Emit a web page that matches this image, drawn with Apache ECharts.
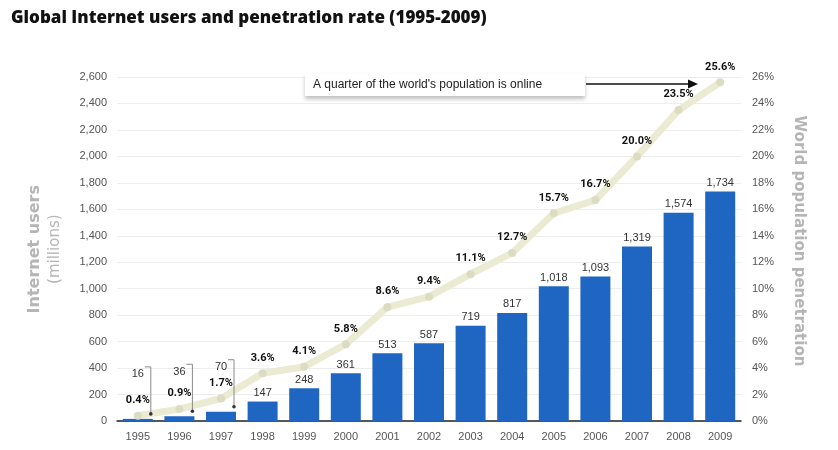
<!DOCTYPE html>
<html>
<head>
<meta charset="utf-8">
<script src="https://cdn.jsdelivr.net/npm/echarts@6/dist/echarts.min.js"></script>
<style>
html,body{margin:0;padding:0;background:#fff;}
#main{width:838px;height:450px;}
</style>
</head>
<body>
<div id="main"></div>
<script>
// 年份
var years = ['1995','1996','1997','1998','1999','2000','2001','2002','2003','2004','2005','2006','2007','2008','2009'];
// 网民数量（百万）
var users = [16, 36, 70, 147, 248, 361, 513, 587, 719, 817, 1018, 1093, 1319, 1574, 1734];
// 世界人口渗透率 %
var rate = [0.4, 0.9, 1.7, 3.6, 4.1, 5.8, 8.6, 9.4, 11.1, 12.7, 15.7, 16.7, 20.0, 23.5, 25.6];

var myChart = echarts.init(document.getElementById('main'));

function fmtNum(v){
	return String(v).replace(/\B(?=(\d{3})+(?!\d))/g, ',');
}

var barData = [];
var calloutData = [];
for (var i = 0; i < users.length; i++) {
	var item = {value: users[i]};
	if (i < 3) {
		item.label = {offset: [0, -36]}; // 前三年标签抬高
	}
	barData.push(item);
	calloutData.push([i, users[i]]);
}

// 前三年标签的引线
function renderCallout(params, api){
	if (params.dataIndex > 2) return null;
	var p = api.coord([api.value(0), api.value(1)]);
	var x = p[0], barTop = p[1];
	var topY = barTop - 52;
	var color = '#8a8a8a';
	return {
		type: 'group',
		children: [
			{
				type: 'polyline',
				shape: {points: [[x + 7, topY], [x + 13, topY], [x + 13, barTop - 5]]},
				style: {stroke: color, lineWidth: 1, fill: null}
			},
			{
				type: 'circle',
				shape: {cx: x + 13, cy: barTop - 5, r: 1.8},
				style: {fill: '#333'}
			}
		]
	};
}

var option = {
	animation: false,
	title: {
		text: 'Global Internet users and penetration rate (1995-2009)',
		left: 6,
		top: 5,
		textStyle: {
			fontFamily: 'Open Sans',
			fontSize: 17,
			fontWeight: 800,
			color: '#111'
		}
	},
	grid: {
		left: 117,
		right: 97,
		top: 77,
		bottom: 29
	},
	xAxis: {
		type: 'category',
		data: years,
		axisTick: {show: false},
		axisLine: {lineStyle: {color: '#222', width: 1.5}},
		axisLabel: {color: '#555', fontSize: 11, margin: 10, fontFamily: 'Liberation Sans'}
	},
	yAxis: [
		{
			type: 'value',
			min: 0,
			max: 2600,
			interval: 200,
			axisLine: {show: false},
			axisTick: {show: false},
			splitLine: {lineStyle: {color: '#ededed'}},
			axisLabel: {
				color: '#555',
				fontSize: 11,
				margin: 10,
				fontFamily: 'Liberation Sans',
				formatter: function(v){ return fmtNum(v); }
			}
		},
		{
			type: 'value',
			min: 0,
			max: 26,
			interval: 2,
			axisLine: {show: false},
			axisTick: {show: false},
			splitLine: {show: false},
			axisLabel: {
				color: '#555',
				fontSize: 11,
				margin: 11,
				fontFamily: 'Liberation Sans',
				formatter: '{value}%'
			},
			name: 'World population penetration',
			nameLocation: 'middle',
			nameRotate: -90,
			nameGap: 50,
			nameTextStyle: {
				color: '#b5b5b5',
				fontSize: 15,
				fontWeight: 'bold',
				fontFamily: 'DejaVu Sans',
				padding: [0, 16, 0, 0]
			}
		}
	],
	series: [
		{
			name: 'Internet users',
			type: 'bar',
			data: barData,
			barWidth: 30,
			itemStyle: {color: '#1f66c2'},
			label: {
				show: true,
				position: 'top',
				distance: 3,
				color: '#333',
				fontSize: 11,
				fontFamily: 'Liberation Sans',
				formatter: function(p){ return fmtNum(p.value); }
			}
		},
		{
			name: 'callout',
			type: 'custom',
			data: calloutData,
			renderItem: renderCallout,
			silent: true,
			z: 4
		},
		{
			name: 'Penetration',
			type: 'line',
			yAxisIndex: 1,
			data: rate,
			symbol: 'circle',
			symbolSize: 8,
			lineStyle: {color: '#eaebd2', width: 7},
			itemStyle: {color: '#dcdcc2'},
			z: 3,
			label: {
				show: true,
				position: 'top',
				distance: 6,
				color: '#111',
				fontSize: 11,
				fontWeight: 'bold',
				fontFamily: 'Roboto',
				formatter: function(p){ return p.value.toFixed(1) + '%'; }
			}
		}
	],
	graphic: [
		{
			type: 'text',
			left: 27,
			top: 185,
			rotation: Math.PI / 2,
			style: {
				text: '{a|Internet users}\n{b|(millions)}',
				rich: {
					a: {fontSize: 16, fontWeight: 'bold', fill: '#b5b5b5', fontFamily: 'DejaVu Sans', lineHeight: 20},
					b: {fontSize: 15, fill: '#b5b5b5', fontFamily: 'DejaVu Sans', lineHeight: 20, align: 'center'}
				},
				align: 'center'
			}
		},
		{
			type: 'rect',
			left: 305,
			top: 74,
			shape: {width: 280, height: 22},
			style: {fill: '#fff', shadowColor: 'rgba(0,0,0,0.25)', shadowBlur: 4, shadowOffsetY: 3},
			z: 10
		},
		{
			type: 'text',
			left: 313,
			top: 79,
			style: {text: "A quarter of the world's population is online", fill: '#222', fontSize: 12, fontFamily: 'Liberation Sans'},
			z: 11
		},
		{
			type: 'line',
			shape: {x1: 586, y1: 84, x2: 690, y2: 84},
			style: {stroke: '#111', lineWidth: 1.5},
			z: 11
		},
		{
			type: 'polygon',
			shape: {points: [[698, 84], [688, 79.5], [688, 88.5]]},
			style: {fill: '#111'},
			z: 11
		}
	]
};

myChart.setOption(option, true);
</script>
</body>
</html>
